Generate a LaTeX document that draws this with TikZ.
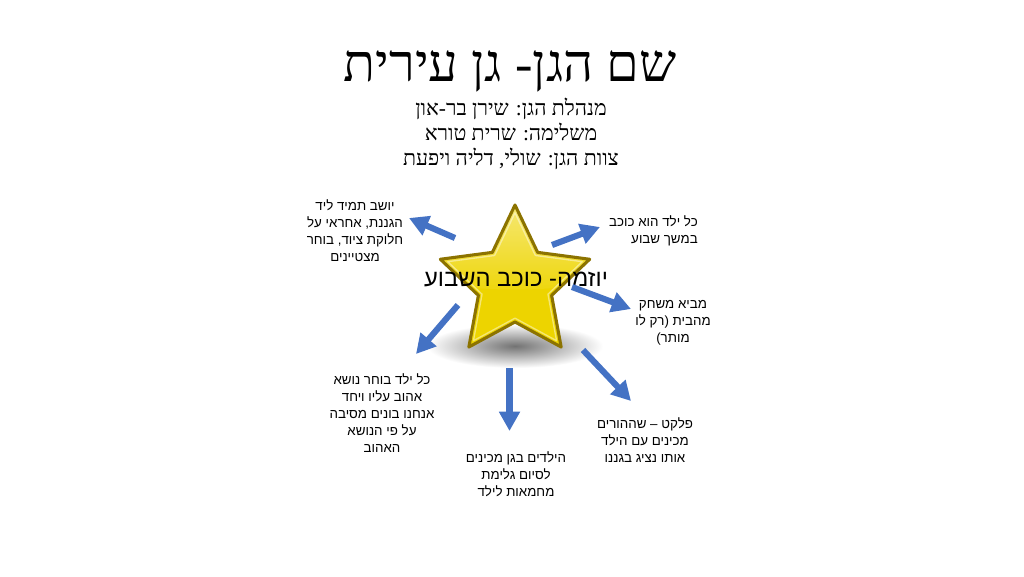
\documentclass[tikz,border=0pt]{standalone}
\usepackage{fontspec}
\setmainfont{Liberation Sans}
\newfontfamily\hebserif[Script=Hebrew]{Liberation Serif}
\newfontfamily\hebsans[Script=Hebrew]{Liberation Sans}
\TeXXeTstate=1
\newcommand{\RL}[1]{\beginR #1\endR}
\usetikzlibrary{arrows.meta}
\definecolor{arrowblue}{HTML}{4472C4}
\definecolor{starfill}{HTML}{EDD400}
\definecolor{starlight}{HTML}{F6E874}
\definecolor{starborder}{HTML}{8C7300}
\tikzset{
  bluearrow/.style={draw=arrowblue, line width=4.6pt, -{Triangle[width=15pt,length=14.5pt]}, arrowblue},
  lbl/.style={font=\hebsans\fontsize{10}{12.8}\selectfont, align=center, inner sep=0pt},
  title/.style={font=\hebserif\fontsize{39.3}{46}\selectfont, inner sep=0pt},
  subtitle/.style={font=\hebserif\fontsize{16}{18.8}\selectfont, align=center, inner sep=0pt},
  centerlbl/.style={font=\hebsans\fontsize{17.8}{21}\selectfont, inner sep=0pt}
}
\begin{document}
\begin{tikzpicture}[x=0.75pt,y=-0.75pt]
\useasboundingbox (0,0) rectangle (1024,576);
\fill[white] (0,0) rectangle (1024,576);
% title
\node[title] (title) at (510,71) {\RL{שם הגן- גן עירית}};
\node[subtitle] (sub) at (511,134) {\RL{מנהלת הגן: שירן בר-און}\\ \RL{משלימה: שרית טורא}\\ \RL{צוות הגן: שולי, דליה ויפעת}};
% shadow
\shade[inner color=black!55, outer color=white] (515,346) ellipse [x radius=88, y radius=22];
% star
\begin{scope}[shift={(515,283.5)}]
\path[fill=starfill] (-90:78.5) -- (-54:38.5) -- (-18:78.5) -- (18:38.5) -- (54:78.5) -- (90:38.5) -- (126:78.5) -- (162:38.5) -- (198:78.5) -- (234:38.5) -- cycle;
\begin{scope}
\clip (-90:78.5) -- (-54:38.5) -- (-18:78.5) -- (18:38.5) -- (54:78.5) -- (90:38.5) -- (126:78.5) -- (162:38.5) -- (198:78.5) -- (234:38.5) -- cycle;
\shade[top color=starlight, bottom color=starfill!90!starlight] (-80,-80) rectangle (80,0) .. controls (30,8) and (-30,8) .. (-80,0);
\end{scope}
\draw[white, opacity=0.45, line width=1pt, line join=round, scale=0.9] (-90:78.5) -- (-54:38.5) -- (-18:78.5) -- (18:38.5) -- (54:78.5) -- (90:38.5) -- (126:78.5) -- (162:38.5) -- (198:78.5) -- (234:38.5) -- cycle;
\draw[starborder, line width=2.3pt, line join=round] (-90:78.5) -- (-54:38.5) -- (-18:78.5) -- (18:38.5) -- (54:78.5) -- (90:38.5) -- (126:78.5) -- (162:38.5) -- (198:78.5) -- (234:38.5) -- cycle;
\end{scope}
\node[centerlbl] (center) at (516,279) {\RL{יוזמה- כוכב השבוע}};
% labels
\node[lbl] (nw) at (355,231) {\RL{יושב תמיד ליד}\\ \RL{הגננת, אחראי על}\\ \RL{חלוקת ציוד, בוחר}\\ \RL{מצטיינים}};
\node[lbl, align=right, anchor=east] (ne) at (698,230.5) {\RL{כל ילד הוא כוכב}\\ \RL{במשך שבוע}};
\node[lbl] (e) at (673,323) {\RL{מביא משחק}\\ \RL{מהבית (רק לו}\\ \RL{מותר)}};
\node[lbl] (sw) at (382,413) {\RL{כל ילד בוחר נושא}\\ \RL{אהוב עליו ויחד}\\ \RL{אנחנו בונים מסיבה}\\ \RL{על פי הנושא}\\ \RL{האהוב}};
\node[lbl] (s) at (516,474.5) {\RL{הילדים בגן מכינים}\\ \RL{לסיום גלימת}\\ \RL{מחמאות לילד}};
\node[lbl] (se) at (645,440.5) {\RL{פלקט – שההורים}\\ \RL{מכינים עם הילד}\\ \RL{אותו נציג בגננו}};
% arrow ends
\coordinate (a1s) at (455,238); \coordinate (a1e) at (409,218);
\coordinate (a2s) at (552,245); \coordinate (a2e) at (600,227);
\coordinate (a3s) at (572,287); \coordinate (a3e) at (631,309);
\coordinate (a4s) at (458,305); \coordinate (a4e) at (416,354);
\coordinate (a5s) at (509.5,368); \coordinate (a5e) at (509.5,431);
\coordinate (a6s) at (583,350); \coordinate (a6e) at (631,401);
\draw[bluearrow] (a1s) -- (a1e);
\draw[bluearrow] (a2s) -- (a2e);
\draw[bluearrow] (a3s) -- (a3e);
\draw[bluearrow] (a4s) -- (a4e);
\draw[bluearrow] (a5s) -- (a5e);
\draw[bluearrow] (a6s) -- (a6e);
\end{tikzpicture}
\end{document}
